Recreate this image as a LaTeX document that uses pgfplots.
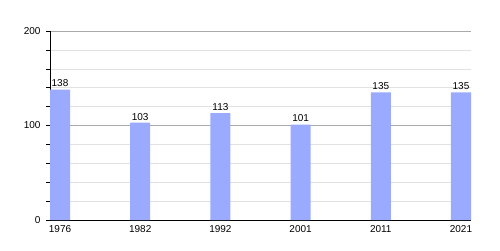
\documentclass[border=0pt]{standalone}
\usepackage{pgfplots}
\pgfplotsset{compat=1.18}
\usepackage{fontspec}
\setmainfont{Liberation Sans}
\definecolor{barblue}{RGB}{153,170,255}
\definecolor{majgrid}{RGB}{170,170,170}
\definecolor{mingrid}{RGB}{225,225,225}
\begin{document}
\begin{tikzpicture}[x=1bp,y=1bp]
\path[use as bounding box] (0,0) rectangle (500,250);
\begin{axis}[
  at={(50bp,30bp)}, anchor=south west,
  scale only axis, width=421bp, height=189bp,
  xmin=-0.125, xmax=5.125, ymin=0, ymax=200,
  axis x line*=bottom, axis y line*=left,
  axis line style={black, line width=0.9pt},
  xtick={0,1,2,3,4,5},
  xticklabels={1976,1982,1992,2001,2011,2021},
  x tick style={draw=none},
  ytick={0,100,200}, minor ytick={20,40,60,80,120,140,160,180},
  ymajorgrids, yminorgrids,
  major grid style={majgrid, line width=0.8pt},
  minor grid style={mingrid, line width=0.6pt},
  y tick style={black, line width=0.6pt},
  tick align=outside,
  major tick length=4bp, minor tick length=4bp,
  tick label style={font=\fontsize{10bp}{12bp}\selectfont},
  /pgf/number format/assume math mode=true,
  yticklabel style={xshift=-2bp},
  xticklabel style={yshift=2bp},
  ybar, bar width=0.25, bar shift=0pt,
  nodes near coords,
  every node near coord/.append style={font=\fontsize{10bp}{12bp}\selectfont, black, yshift=-1bp},
  clip=false,
]
\addplot[fill=barblue, draw=none] coordinates {(0,138) (1,103) (2,113) (3,101) (4,135) (5,135)};
\end{axis}
\end{tikzpicture}
\end{document}
